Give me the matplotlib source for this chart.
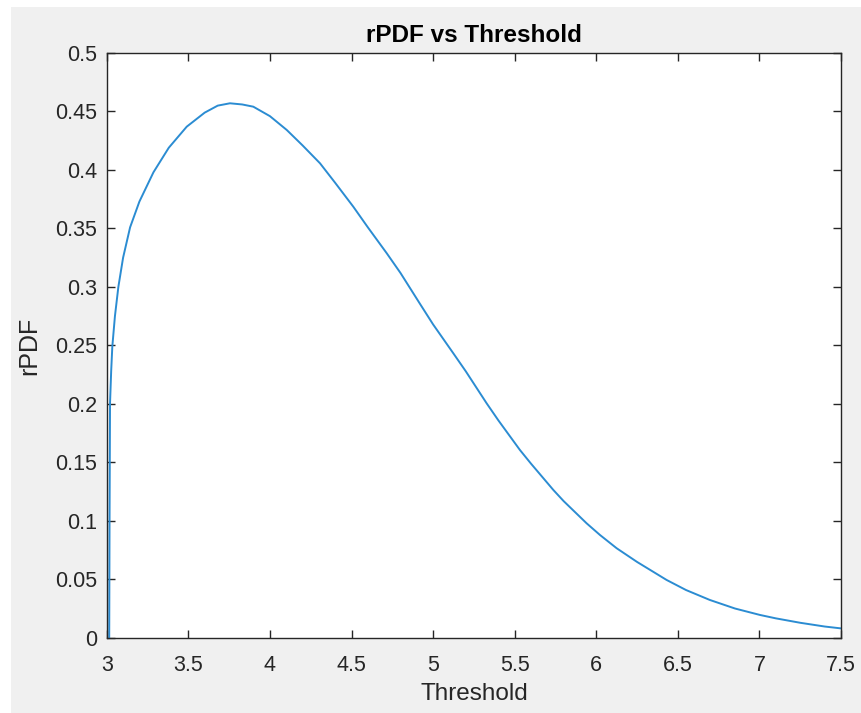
import matplotlib.pyplot as plt
from matplotlib.patches import Rectangle

# values
threshold = [3.015, 3.017, 3.020, 3.027, 3.034, 3.050, 3.071, 3.100, 3.143, 3.200,
             3.286, 3.380, 3.490, 3.600, 3.680, 3.755, 3.830, 3.898, 4.000, 4.103,
             4.200, 4.307, 4.400, 4.511, 4.600, 4.716, 4.800, 4.920, 5.000, 5.124,
             5.200, 5.328, 5.400, 5.532, 5.600, 5.737, 5.800, 5.941, 6.023, 6.125,
             6.250, 6.350, 6.431, 6.550, 6.696, 6.850, 7.003, 7.100, 7.250, 7.400,
             7.500]
rpdf = [0.0, 0.10, 0.2006, 0.228, 0.249, 0.275, 0.300, 0.325, 0.351, 0.373,
        0.398, 0.419, 0.437, 0.449, 0.455, 0.457, 0.456, 0.4541, 0.446, 0.4342,
        0.421, 0.4057, 0.389, 0.3686, 0.351, 0.3288, 0.312, 0.2855, 0.268, 0.2433,
        0.228, 0.2006, 0.186, 0.1607, 0.149, 0.1265, 0.117, 0.0980, 0.0880, 0.0767,
        0.0650, 0.0565, 0.0496, 0.0410, 0.0325, 0.0252, 0.0197, 0.0168, 0.0130, 0.0098,
        0.0082]

xticks = [3, 3.5, 4, 4.5, 5, 5.5, 6, 6.5, 7, 7.5]
xticklabels = ['3', '3.5', '4', '4.5', '5', '5.5', '6', '6.5', '7', '7.5']
yticks = [0, 0.05, 0.1, 0.15, 0.2, 0.25, 0.3, 0.35, 0.4, 0.45, 0.5]
yticklabels = ['0', '0.05', '0.1', '0.15', '0.2', '0.25', '0.3', '0.35', '0.4', '0.45', '0.5']

plt.rcParams['font.family'] = ['Liberation Sans', 'DejaVu Sans']
dark = '#262626'

fig = plt.figure(figsize=(8.61, 7.13), dpi=100, facecolor='white')
bg = Rectangle((0.0128, 0), 1 - 0.0128, 0.990, transform=fig.transFigure,
               facecolor='#f0f0f0', edgecolor='none', zorder=-10)
fig.add_artist(bg)

ax = fig.add_axes([0.124, 0.1052, 0.9768 - 0.124, 0.9257 - 0.1052])
ax.set_facecolor('white')
ax.plot(threshold, rpdf, color='#2b8cd2', lw=1.4)

ax.set_xlim(3, 7.5)
ax.set_ylim(0, 0.5)
ax.set_xticks(xticks)
ax.set_xticklabels(xticklabels)
ax.set_yticks(yticks)
ax.set_yticklabels(yticklabels)
ax.tick_params(direction='in', length=6, width=1.0, colors=dark, labelsize=15.5,
               top=True, right=True)
ax.tick_params(axis='x', pad=12)
ax.tick_params(axis='y', pad=7)
for s in ax.spines.values():
    s.set_color(dark)
    s.set_linewidth(1.0)

ax.set_title('rPDF vs Threshold', fontsize=17.5, fontweight='bold', color='black', pad=8)
ax.set_xlabel('Threshold', fontsize=17.5, color=dark, labelpad=5)
ax.set_ylabel('rPDF', fontsize=18, color=dark, labelpad=10)

fig.savefig('out.png', dpi=100, facecolor=fig.get_facecolor())
